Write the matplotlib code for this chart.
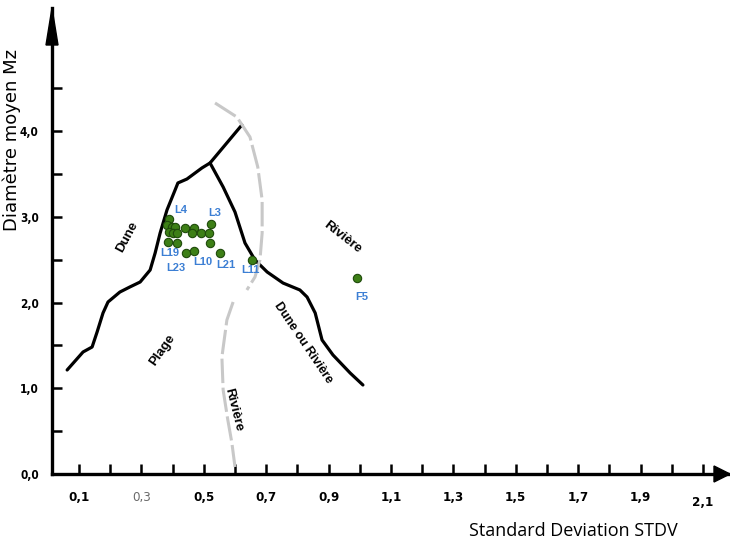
import matplotlib
matplotlib.use("Agg")
import matplotlib.pyplot as plt
from matplotlib.patches import Polygon
from matplotlib.transforms import Affine2D, ScaledTranslation
from matplotlib import font_manager as fm

# ---------------- data ----------------
# Boundary curve: Dune (left) rising to the top end
dune_x = [0.062, 0.113, 0.142, 0.158, 0.177, 0.193, 0.231, 0.263, 0.296, 0.328,
          0.344, 0.360, 0.382, 0.408, 0.417, 0.446, 0.494, 0.520, 0.622]
dune_y = [1.213, 1.423, 1.481, 1.656, 1.878, 2.006, 2.122, 2.181, 2.239, 2.379,
          2.577, 2.810, 3.079, 3.312, 3.394, 3.440, 3.569, 3.627, 4.070]
# Boundary curve: Dune ou Rivière (right branch from junction)
dr_x = [0.520, 0.562, 0.600, 0.632, 0.664, 0.703, 0.754, 0.808, 0.831, 0.857,
        0.879, 0.914, 0.969, 1.010]
dr_y = [3.627, 3.347, 3.055, 2.694, 2.496, 2.356, 2.227, 2.146, 2.064, 1.878,
        1.563, 1.388, 1.178, 1.038]
# Gray (Rivière) boundary, upper and lower parts
riv_up_x = [0.536, 0.606, 0.648, 0.673, 0.687, 0.687, 0.680, 0.664, 0.638]
riv_up_y = [4.327, 4.163, 3.930, 3.580, 3.195, 2.810, 2.496, 2.297, 2.146]
riv_lo_x = [0.594, 0.574, 0.558, 0.562, 0.577, 0.590, 0.600]
riv_lo_y = [2.006, 1.796, 1.364, 0.980, 0.630, 0.362, 0.082]

# Samples (STDV, Mz)
samp_x = [0.388, 0.382, 0.398, 0.408, 0.388, 0.401, 0.414, 0.440, 0.469, 0.462,
          0.491, 0.517, 0.523, 0.385, 0.414, 0.520, 0.443, 0.469, 0.552, 0.654, 0.991]
samp_y = [2.974, 2.904, 2.880, 2.880, 2.822, 2.810, 2.810, 2.869, 2.869, 2.810,
          2.810, 2.810, 2.915, 2.706, 2.694, 2.694, 2.577, 2.601, 2.577, 2.496, 2.286]

lab_text = ["L4", "L3", "L19", "L23", "L10", "L21", "L11", "F5"]
lab_x = [0.427, 0.536, 0.392, 0.411, 0.497, 0.571, 0.651, 1.007]
lab_y = [3.079, 3.044, 2.577, 2.402, 2.472, 2.437, 2.379, 2.064]

zone_text = ["Dune", "Rivière", "Plage", "Rivière", "Dune ou Rivière"]
zone_x = [0.254, 0.943, 0.366, 0.594, 0.818]
zone_y = [2.764, 2.764, 1.446, 0.746, 1.528]
zone_rot = [62, -38, 55, -76, -56]

xticks_major = [0.1, 0.3, 0.5, 0.7, 0.9, 1.1, 1.3, 1.5, 1.7, 1.9, 2.1]
xtick_labels = ["0,1", "0,3", "0,5", "0,7", "0,9", "1,1", "1,3", "1,5", "1,7", "1,9", "2,1"]
xticks_minor = [0.2, 0.4, 0.6, 0.8, 1.0, 1.2, 1.4, 1.6, 1.8, 2.0]
yticks_major = [0, 1, 2, 3, 4]
ytick_labels = ["0,0", "1,0", "2,0", "3,0", "4,0"]
yticks_minor = [0.5, 1.5, 2.5, 3.5, 4.5]

# ---------------- condensed font for ticks ----------------
names = {f.name for f in fm.fontManager.ttflist}
cond = [f for f in fm.fontManager.ttflist
        if f.name == "DejaVu Sans" and str(f.stretch) in ("condensed", "semi-condensed", "587", "500")
        and f.weight in ("bold", 700)]
if "Liberation Sans Narrow" in names:
    base = dict(family="Liberation Sans Narrow", weight="bold")
    xs, ys = 10.5, 9.5
elif cond:
    base = dict(family="DejaVu Sans", stretch="condensed", weight="bold")
    xs, ys = 9.5, 8.5
else:
    base = dict(family="Liberation Sans", weight="bold")
    xs, ys = 9, 8
xfont = dict(base, size=xs)
yfont = dict(base, size=ys)

# ---------------- figure ----------------
W, H = 730, 541
fig = plt.figure(figsize=(W / 100, H / 100), dpi=100)
fig.patch.set_facecolor("white")
ax = fig.add_axes([52 / W, 67 / H, (W - 52) / W, (474 - 8) / H])
ax.set_xlim((52 - 47.8) / 312, (W - 47.8) / 312)
ax.set_ylim(0, (474 - 8) / 85.75)

for s in ["top", "right"]:
    ax.spines[s].set_visible(False)
for s in ["left", "bottom"]:
    ax.spines[s].set_linewidth(2.4)
    ax.spines[s].set_color("black")

ax.set_xticks(xticks_major)
ax.set_xticklabels(xtick_labels, fontdict=xfont)
ax.set_xticks(xticks_minor, minor=True)
ax.set_yticks(yticks_major)
ax.set_yticklabels(ytick_labels, fontdict=yfont)
ax.set_yticks(yticks_minor, minor=True)
ax.tick_params(axis="both", which="both", direction="in", length=7, width=1.8, color="black")
ax.tick_params(axis="x", which="major", pad=12)
ax.tick_params(axis="y", which="major", pad=9.5)
xl = ax.get_xticklabels()
xl[1].set_color("#6a6a6a")
xl[1].set_fontweight("normal")
xl[-1].set_transform(xl[-1].get_transform() + ScaledTranslation(0, -5 / 100, fig.dpi_scale_trans))

# axis arrows (figure pixel coordinates)
pix = Affine2D().scale(1 / W, -1 / H).translate(0, 1) + fig.transFigure
fig.patches.append(Polygon([[46, 45], [58, 45], [52, 8]], closed=True, color="black", transform=pix))
fig.patches.append(Polygon([[714, 466], [714, 482], [730, 474]], closed=True, color="black", transform=pix))

# boundaries
ax.plot(dune_x, dune_y, color="black", lw=2.3, solid_joinstyle="round", solid_capstyle="round")
ax.plot(dr_x, dr_y, color="black", lw=2.3, solid_joinstyle="round", solid_capstyle="round")
ax.plot(riv_up_x, riv_up_y, color="#c8c8c8", lw=2.2, dashes=(8, 1.5))
ax.plot(riv_lo_x, riv_lo_y, color="#c8c8c8", lw=2.2, dashes=(8, 1.5))

# samples
ax.plot(samp_x, samp_y, "o", ms=6, mfc="#3d7f16", mec="#1f4a0b", mew=0.8, zorder=5)

for t, x, y in zip(lab_text, lab_x, lab_y):
    ax.text(x, y, t, color="#3c7fd4", fontsize=8, fontweight="bold",
            family="Liberation Sans", ha="center", va="center")

for t, x, y, r in zip(zone_text, zone_x, zone_y, zone_rot):
    ax.text(x, y, t, color="black", fontsize=9 if len(t) > 10 else 9.5, fontweight="bold",
            family="Liberation Sans", ha="center", va="center", rotation=r,
            rotation_mode="anchor")

fig.text(12 / W, 1 - 140 / H, "Diamètre moyen Mz", rotation=90, fontsize=13,
         family="DejaVu Sans", ha="center", va="center")
fig.text(573 / W, 1 - 531 / H, "Standard Deviation STDV", fontsize=13,
         family="Open Sans", ha="center", va="center")

fig.savefig("out.png", dpi=100, facecolor="white")
